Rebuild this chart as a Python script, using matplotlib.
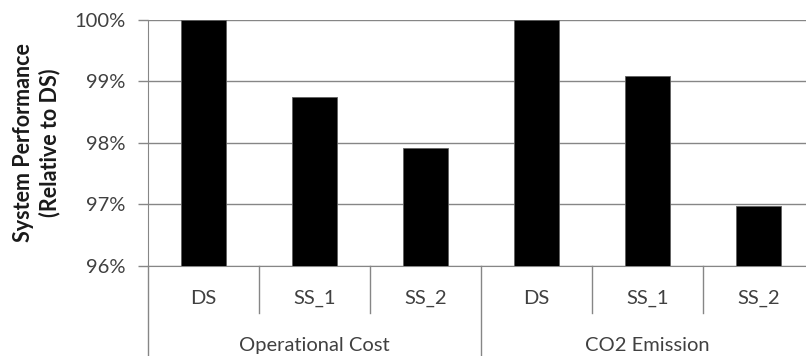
import numpy as np
import matplotlib.pyplot as plt
from matplotlib.ticker import PercentFormatter
import matplotlib.transforms as mtransforms

plt.rcParams['font.family'] = ['Lato', 'DejaVu Sans']

# Rendimiento relativo al escenario DS (%)
grupos = ["Operational Cost", "CO2 Emission"]
escenarios = ["DS", "SS_1", "SS_2"]
costo_operacional = [100.0, 98.75, 97.91]
emision_co2 = [100.0, 99.09, 96.97]

valores = costo_operacional + emision_co2
etiquetas = escenarios * len(grupos)
x = np.arange(len(valores))

gris = "#868686"
fig = plt.figure(figsize=(8.06, 3.56), dpi=100)
ax = fig.add_axes([148 / 806, 90.3 / 356, 666 / 806, 245.7 / 356])

ax.bar(x, valores, width=0.4, color="black", edgecolor="#606060", linewidth=0.6, zorder=3)

ax.set_xlim(-0.5, len(valores) - 0.5)
ax.set_ylim(96, 100)
ax.set_yticks([96, 97, 98, 99, 100])
ax.yaxis.set_major_formatter(PercentFormatter(xmax=100, decimals=0))
ax.yaxis.grid(True, color=gris, linewidth=1.0, zorder=0)
ax.tick_params(axis="y", length=7, width=1.0, color=gris, pad=9, labelsize=14.5, labelcolor="#404040")
ax.set_xticks([])

for lado in ["top", "right"]:
    ax.spines[lado].set_visible(False)
ax.spines["left"].set_color(gris)
ax.spines["bottom"].set_color(gris)
ax.spines["left"].set_bounds(96, 100)

ax.set_ylabel("System Performance\n(Relative to DS)", fontsize=15.5, fontweight="bold",
              color="#1a1a1a", labelpad=10, linespacing=1.3)

# Ejes de categorías en dos niveles
trans = mtransforms.blended_transform_factory(ax.transData, ax.transAxes)
for xi, etiqueta in zip(x, etiquetas):
    ax.text(xi, -0.132, etiqueta, transform=trans, ha="center", va="center",
            fontsize=14.5, color="#404040", clip_on=False)
for xi in x[:-1]:
    if (xi + 1) % len(escenarios) == 0:
        continue
    ax.plot([xi + 0.5, xi + 0.5], [0, -0.1925], transform=trans, color=gris,
            linewidth=1.0, clip_on=False)

ax.plot([-0.5, -0.5], [0, -0.5], transform=trans, color=gris, linewidth=1.0, clip_on=False)
for g, nombre in enumerate(grupos):
    centro = g * len(escenarios) + (len(escenarios) - 1) / 2
    ax.text(centro, -0.325, nombre, transform=trans, ha="center", va="center",
            fontsize=14.5, color="#404040", clip_on=False)
    fin = (g + 1) * len(escenarios) - 0.5
    ax.plot([fin, fin], [0, -0.5], transform=trans, color=gris, linewidth=1.0, clip_on=False)

fig.savefig("out.png", dpi=100)
